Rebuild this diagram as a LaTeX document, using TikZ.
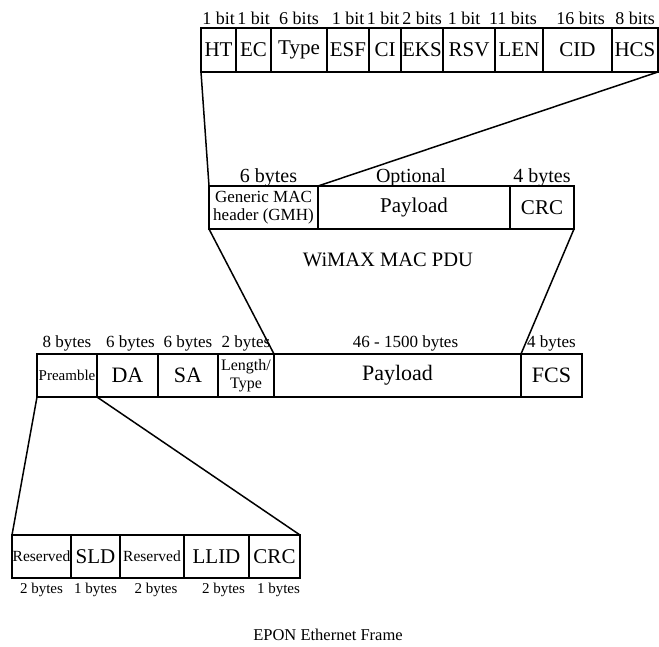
\documentclass[tikz,border=0pt]{standalone}
\usepackage{fontspec}
\setmainfont{Liberation Serif}
\usetikzlibrary{positioning}

\begin{document}
\begin{tikzpicture}[x=1pt, y=-1pt,
    cell/.style={
        draw, line width=1.5pt, inner sep=0pt, outer sep=0pt,
        minimum height=43pt, font=\fontsize{21}{22}\selectfont
    },
    small/.style={font=\fontsize{15.5}{18}\selectfont},
    lbl/.style={inner sep=0pt, text depth=0pt, font=\fontsize{18}{20}\selectfont},
    link/.style={line width=1.5pt},
]
\useasboundingbox (0,0) rectangle (659,646);

% Row 1: generic MAC header fields
\node[cell, minimum width=35pt, minimum height=44pt] (ht) at (218.5,50) {HT};
\node[cell, minimum width=35pt, minimum height=44pt] (ec) at (253.5,50) {EC};
\node[cell, minimum width=56pt, minimum height=44pt] (type) at (299,50) {Type};
\node[cell, minimum width=42pt, minimum height=44pt] (esf) at (348,50) {ESF};
\node[cell, minimum width=32pt, minimum height=44pt] (ci) at (385,50) {CI};
\node[cell, minimum width=42pt, minimum height=44pt] (eks) at (422,50) {EKS};
\node[cell, minimum width=52pt, minimum height=44pt] (rsv) at (469,50) {RSV};
\node[cell, minimum width=48pt, minimum height=44pt] (len) at (519,50) {LEN};
\node[cell, minimum width=69pt, minimum height=44pt] (cid) at (577.5,50) {CID};
\node[cell, minimum width=46pt, minimum height=44pt] (hcs) at (635,50) {HCS};

\node[lbl, above=3pt of ht] {1 bit};
\node[lbl, above=3pt of ec] {1 bit};
\node[lbl, above=3pt of type] {6 bits};
\node[lbl, above=3pt of esf] {1 bit};
\node[lbl, above=3pt of ci, xshift=-2pt] {1 bit};
\node[lbl, above=3pt of eks] {2 bits};
\node[lbl, above=3pt of rsv, xshift=-5pt] {1 bit};
\node[lbl, above=3pt of len, xshift=-6pt] {11 bits};
\node[lbl, above=3pt of cid, xshift=3pt] {16 bits};
\node[lbl, above=3pt of hcs] {8 bits};

% Row 2: WiMAX MAC PDU
\node[cell, minimum width=109pt, align=center, font=\fontsize{17}{18}\selectfont] (gmh) at (263.5,207.5)
    {Generic MAC\\header (GMH)};
\node[cell, minimum width=192pt] (mpay) at (414,207.5) {Payload};
\node[cell, minimum width=64pt] (mcrc) at (542,207.5) {CRC};

\node[lbl, above=3.5pt of gmh, font=\fontsize{20}{22}\selectfont, xshift=5pt] {6 bytes};
\node[lbl, above=3.5pt of mpay, font=\fontsize{20}{22}\selectfont, xshift=-3pt] {Optional};
\node[lbl, above=3.5pt of mcrc, font=\fontsize{20}{22}\selectfont] {4 bytes};

\node[font=\fontsize{20.5}{22}\selectfont] (wimax) at (388,260) {WiMAX MAC PDU};

% Row 3: Ethernet frame
\node[cell, minimum width=60pt, font=\fontsize{15}{18}\selectfont] (pre) at (67,375.5) {Preamble};
\node[cell, minimum width=61pt, font=\fontsize{22}{24}\selectfont] (da) at (127.5,375.5) {DA};
\node[cell, minimum width=60pt, font=\fontsize{22}{24}\selectfont] (sa) at (188,375.5) {SA};
\node[cell, minimum width=56pt, align=center, font=\fontsize{16}{18}\selectfont] (lt) at (246,375.5)
    {Length/\\Type};
\node[cell, minimum width=247pt, font=\fontsize{22}{24}\selectfont] (epay) at (397.5,375.5) {Payload};
\node[cell, minimum width=61pt, font=\fontsize{22}{24}\selectfont] (fcs) at (551.5,375.5) {FCS};

\node[lbl, above=6.5pt of pre, font=\fontsize{17}{20}\selectfont] {8 bytes};
\node[lbl, above=6.5pt of da, font=\fontsize{17}{20}\selectfont, xshift=3pt] {6 bytes};
\node[lbl, above=6.5pt of sa, font=\fontsize{17}{20}\selectfont] {6 bytes};
\node[lbl, above=6.5pt of lt, font=\fontsize{17}{20}\selectfont] {2 bytes};
\node[lbl, above=6.5pt of epay, font=\fontsize{17}{20}\selectfont, xshift=8pt] {46 - 1500 bytes};
\node[lbl, above=6.5pt of fcs, font=\fontsize{17}{20}\selectfont] {4 bytes};

% Row 4: preamble fields
\node[cell, minimum width=59pt, small] (res1) at (41.5,556.5) {Reserved};
\node[cell, minimum width=49pt] (sld) at (95.5,556.5) {SLD};
\node[cell, minimum width=64pt, small] (res2) at (152,556.5) {Reserved};
\node[cell, minimum width=65pt] (llid) at (216.5,556.5) {LLID};
\node[cell, minimum width=51pt] (bcrc) at (274.5,556.5) {CRC};

\node[lbl, below=5pt of res1, font=\fontsize{15}{18}\selectfont] {2 bytes};
\node[lbl, below=5pt of sld, font=\fontsize{15}{18}\selectfont] {1 bytes};
\node[lbl, below=5pt of res2, font=\fontsize{15}{18}\selectfont, xshift=4pt] {2 bytes};
\node[lbl, below=5pt of llid, font=\fontsize{15}{18}\selectfont, xshift=7pt] {2 bytes};
\node[lbl, below=5pt of bcrc, font=\fontsize{15}{18}\selectfont, xshift=4pt] {1 bytes};

\node[font=\fontsize{16.5}{20}\selectfont] (epon) at (328,635) {EPON Ethernet Frame};

% Expansion lines
\draw[link] (ht.south west) -- (gmh.north west);
\draw[link] (hcs.south east) -- (mpay.north west);
\draw[link] (gmh.south west) -- (lt.north east);
\draw[link] (mcrc.south east) -- (fcs.north west);
\draw[link] (pre.south west) -- (res1.north west);
\draw[link] (pre.south east) -- (bcrc.north east);

\end{tikzpicture}
\end{document}
